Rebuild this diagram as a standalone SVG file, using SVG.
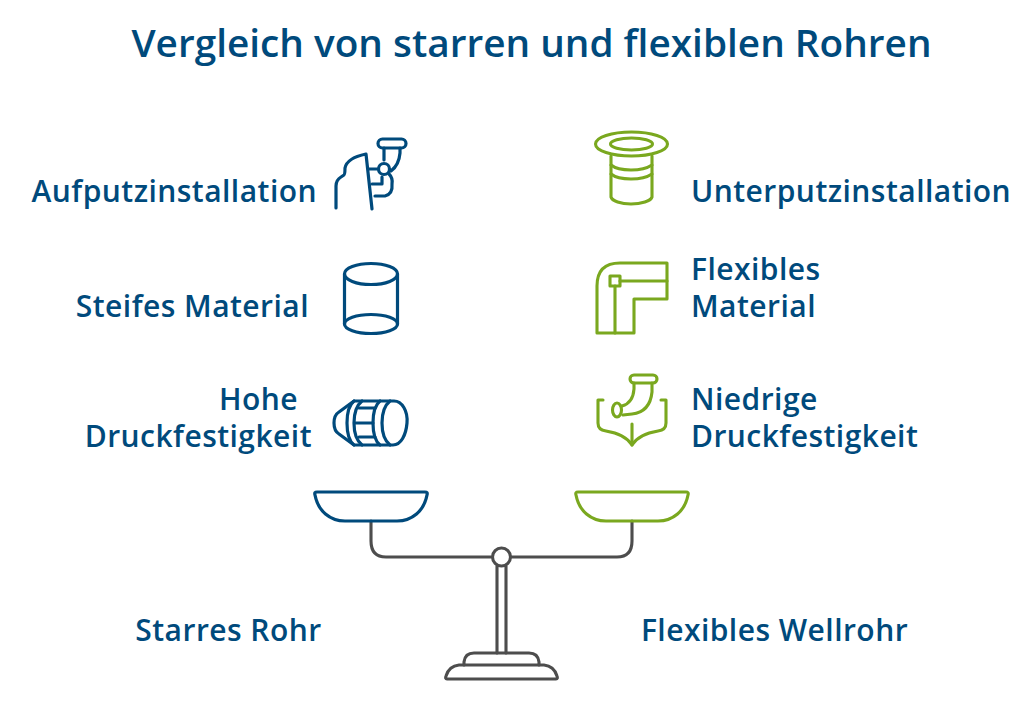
<svg xmlns="http://www.w3.org/2000/svg" width="1022" height="713" viewBox="0 0 1022 713">
<style>
text{font-family:"Open Sans","Noto Sans",sans-serif;font-weight:600;fill:#004a7c;font-size:30px;letter-spacing:.46px}
.t{font-size:38.75px;letter-spacing:0}
.e{text-anchor:end}
.b,.g,.k{fill:none;stroke-linecap:round;stroke-linejoin:round}
.b{stroke:#004a7c;stroke-width:3.2}
.g{stroke:#7aa81f;stroke-width:3.1}
.k{stroke:#4d4d4d;stroke-width:3.1}
</style>
<rect width="1022" height="713" fill="#fff"/>
<text id="title" class="t" x="531.500" y="57" text-anchor="middle">Vergleich von starren und flexiblen Rohren</text>
<g id="scale">
<path class="k" d="M371 521V541Q371 557 386 557H491M511 557H617Q632 557 632 541V521"/>
<path class="k" d="M497 566V653M506 566V653"/>
<path class="k" d="M464 665V662Q465 653 474 653H529Q538 653 539 662V665"/>
<path class="k" d="M447 679Q445 679 446 676Q449 666 459 665H544Q554 666 557 676Q558 679 556 679Z"/>
<circle class="k" cx="501.500" cy="557" r="9"/>
</g>
<g id="pan-left"><path class="b" d="M317 492H425Q428 492 427 495C424 511 412 521 397 521H345C330 521 318 511 315 495Q314 492 317 492Z"/></g>
<g id="pan-right"><path class="g" d="M578 492H686Q689 492 688 495C685 511 673 521 658 521H606C591 521 579 511 576 495Q575 492 578 492Z"/></g>
<g id="aufputz">
<path class="b" d="M336 208V186Q336 180 341 177L344 175Q345 175 345 168Q347 158 366 154L372 209"/>
<rect class="b" x="378" y="139" width="28" height="9" rx="4.500"/>
<path class="b" d="M384 148V160M400 148V153Q399 165 391 171"/>
<circle class="b" cx="384" cy="169" r="5.500"/>
<path class="b" d="M369 169H378M372 184H382V177M375 196H385Q393 194 392 184Q393 178 389 174"/>
</g>
<text x="317" y="201.700" class="e">Aufputzinstallation</text>
<g id="unterputz">
<ellipse class="g" cx="631.500" cy="144" rx="36" ry="12"/>
<ellipse class="g" cx="631.500" cy="144" rx="21" ry="6"/>
<path class="g" d="M611 156V197C612 201 621 204 631 204S651 201 652 197V156"/>
<path class="g" d="M611 165C616 169 624 170 631 170S646 169 652 165M611 174C616 178 624 179 631 179S646 178 652 174"/>
</g>
<text x="691" y="201.700">Unterputzinstallation</text>
<g id="steif">
<ellipse class="b" cx="371" cy="274" rx="26.500" ry="10.500"/>
<ellipse class="b" cx="371" cy="324" rx="26.500" ry="9.500"/>
<path class="b" d="M344.500 274V324M397.500 274V324"/>
</g>
<text x="309" y="316.700" class="e">Steifes Material</text>
<g id="flexibel">
<path class="g" d="M597 333V286Q597 263 620 263H667V299H634V333Z"/>
<rect class="g" x="610" y="276" width="10" height="10"/>
<path class="g" d="M615 286V333M620 281H667"/>
</g>
<text x="691" y="279.700">Flexibles</text>
<text x="691" y="316.700">Material</text>
<g id="hoch">
<path class="b" d="M354 401H394C402 401 408 411 407 423C406 435 401 445 393 445H354L339 434Q334 431 334 423Q334 415 339 412Z"/>
<path class="b" d="M390 401C385 405 382 413 382 423S385 441 390 445"/>
<path class="b" d="M380 401C375 405 373 413 373 423S375 441 380 445M354 401C349 405 347 413 347 423S349 441 354 445M362 401C357 405 354 413 354 423S357 441 362 445"/>
<path class="b" d="M359 408H375M355 423H373M359 437H375"/>
</g>
<text x="298" y="409.700" class="e">Hohe</text>
<text x="312" y="446.700" class="e">Druckfestigkeit</text>
<g id="niedrig">
<rect class="g" x="630" y="375" width="27" height="8" rx="4"/>
<path class="g" d="M634 383V389Q633 403 622 406M652 383V392Q650 412 632 414L623 415"/>
<ellipse class="g" cx="617" cy="410" rx="4.500" ry="7"/>
<path class="g" d="M603 400H598V423Q598 430 606 431Q625 434 632 445Q639 434 658 431Q666 430 666 423V400H661"/>
<path class="g" d="M632 424V445"/>
</g>
<text x="691" y="409.700">Niedrige</text>
<text x="691" y="446.700">Druckfestigkeit</text>
<text id="label-left" x="228.500" y="640.700" text-anchor="middle">Starres Rohr</text>
<text id="label-right" x="774.500" y="640.700" text-anchor="middle">Flexibles Wellrohr</text>
</svg>
